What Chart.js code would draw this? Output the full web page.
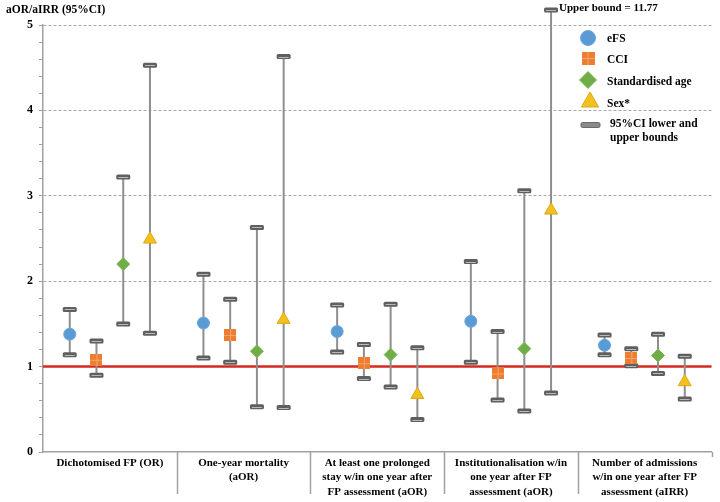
<!DOCTYPE html>
<html>
<head>
<meta charset="utf-8">
<script src="https://cdn.jsdelivr.net/npm/chart.js@4/dist/chart.umd.min.js"></script>
<style>
html,body{margin:0;padding:0;background:#fff;}
#wrap{width:720px;height:502px;}
</style>
</head>
<body>
<div id="wrap"><canvas id="c" width="720" height="502"></canvas></div>
<script>
// ---------------- DATA ----------------
const categoryLabels = [
  ["Dichotomised FP (OR)"],
  ["One-year mortality", "(aOR)"],
  ["At least one prolonged", "stay w/in one year after", "FP assessment (aOR)"],
  ["Institutionalisation w/in", "one year after FP", "assessment (aOR)"],
  ["Number of admissions", "w/in one year after FP", "assessment (aIRR)"]
];
const seriesNames = ["eFS", "CCI", "Standardised age", "Sex*"];

const eFS      = [1.38, 1.51, 1.41, 1.53, 1.25];
const eFSLower = [1.14, 1.10, 1.17, 1.05, 1.14];
const eFSUpper = [1.67, 2.08, 1.72, 2.23, 1.37];

const cci      = [1.08, 1.37, 1.04, 0.92, 1.10];
const cciLower = [0.90, 1.05, 0.86, 0.61, 1.01];
const cciUpper = [1.30, 1.79, 1.26, 1.41, 1.21];

const age      = [2.20, 1.18, 1.14, 1.21, 1.13];
const ageLower = [1.50, 0.53, 0.76, 0.48, 0.92];
const ageUpper = [3.22, 2.63, 1.73, 3.06, 1.38];

const sex      = [2.49, 1.55, 0.67, 2.83, 0.82];
const sexLower = [1.39, 0.52, 0.38, 0.69, 0.62];
const sexUpper = [4.53, 4.63, 1.22, 11.77, 1.12];

const yTickValues = [0, 1, 2, 3, 4, 5];
const referenceValue = 1;
const axisTitle = "aOR/aIRR (95%CI)";
const ciLegendLabel = ["95%CI lower and", "upper bounds"];

// ---------------- STYLE ----------------
const SERIF = "'Liberation Serif', 'Times New Roman', serif";
const groupOffsets = [-0.3, -0.1, 0.1, 0.3];

function makeSquareImage(size) {
  const c = document.createElement('canvas');
  c.width = size; c.height = size;
  const g = c.getContext('2d');
  g.fillStyle = '#ed7d31';
  g.fillRect(0, 0, size, size);
  g.strokeStyle = '#f4a56f';
  g.lineWidth = 1;
  g.beginPath();
  g.moveTo(Math.floor(size / 2) + 0.5, 0); g.lineTo(Math.floor(size / 2) + 0.5, size);
  g.moveTo(0, Math.floor(size / 2) + 0.5); g.lineTo(size, Math.floor(size / 2) + 0.5);
  g.stroke();
  return c;
}
const cciImg = makeSquareImage(12);
const cciLegendImg = makeSquareImage(13);

const seriesStyles = [
  {pointStyle: 'circle', radius: 6, bg: '#5b9bd5', border: '#6aa6dc', legendStyle: 'circle', legendRadius: 7.5},
  {pointStyle: cciImg, radius: 6, bg: '#ed7d31', border: '#ed7d31', legendStyle: cciLegendImg, legendRadius: 7},
  {pointStyle: 'rectRot', radius: 6.5, bg: '#70ad47', border: '#7cb856', legendStyle: 'rectRot', legendRadius: 8.5},
  {pointStyle: 'triangle', radius: 7.5, bg: '#f3c01c', border: '#d9aa1a', legendStyle: 'triangle', legendRadius: 10}
];

const seriesValues = [eFS, cci, age, sex];
const seriesLower = [eFSLower, cciLower, ageLower, sexLower];
const seriesUpper = [eFSUpper, cciUpper, ageUpper, sexUpper];

const datasets = seriesNames.map((name, k) => ({
  label: name,
  data: seriesValues[k].map((v, i) => ({x: i + groupOffsets[k], y: v, lo: seriesLower[k][i], hi: seriesUpper[k][i]})),
  pointStyle: seriesStyles[k].pointStyle,
  pointRadius: seriesStyles[k].radius,
  pointBackgroundColor: seriesStyles[k].bg,
  pointBorderColor: seriesStyles[k].border,
  pointBorderWidth: 1,
  showLine: false
}));

function drawCap(ctx, cx, cy) {
  const w = 14, h = 5;
  ctx.save();
  ctx.fillStyle = '#5f5f5f';
  ctx.beginPath();
  if (ctx.roundRect) ctx.roundRect(cx - w / 2, cy - h / 2, w, h, 1.5);
  else ctx.rect(cx - w / 2, cy - h / 2, w, h);
  ctx.fill();
  ctx.strokeStyle = '#b8b8b8';
  ctx.lineWidth = 1;
  ctx.beginPath();
  ctx.moveTo(cx - w / 2 + 2, Math.round(cy) + 0.5);
  ctx.lineTo(cx + w / 2 - 2, Math.round(cy) + 0.5);
  ctx.stroke();
  ctx.restore();
}

const ciPlugin = {
  id: 'ciPlugin',
  beforeDatasetsDraw(chart) {
    const {ctx, chartArea, scales} = chart;
    const {left, right, top, bottom} = chartArea;
    const x = scales.x, y = scales.y;
    ctx.save();
    // reference line
    const yr = y.getPixelForValue(referenceValue);
    ctx.strokeStyle = '#d5281f';
    ctx.lineWidth = 2.5;
    ctx.beginPath();
    ctx.moveTo(left, yr); ctx.lineTo(right, yr);
    ctx.stroke();
    // category dividers below axis
    ctx.strokeStyle = '#a0a0a0';
    ctx.lineWidth = 1.5;
    for (let i = 0; i < categoryLabels.length - 1; i++) {
      const px = Math.round(x.getPixelForValue(i + 0.5)) + 0.5;
      ctx.beginPath();
      ctx.moveTo(px, bottom); ctx.lineTo(px, bottom + 42);
      ctx.stroke();
    }
    const pr = Math.round(x.getPixelForValue(categoryLabels.length - 0.5)) + 0.5;
    ctx.beginPath(); ctx.moveTo(pr, bottom); ctx.lineTo(pr, bottom + 5); ctx.stroke();
    // error bars
    chart.data.datasets.forEach((ds, di) => {
      const meta = chart.getDatasetMeta(di);
      meta.data.forEach((pt, i) => {
        const d = ds.data[i];
        const px = pt.x;
        const clipped = d.hi > y.max;
        const yHi = clipped ? top - 15 : y.getPixelForValue(d.hi);
        const yLo = y.getPixelForValue(d.lo);
        ctx.strokeStyle = '#8e8e8e';
        ctx.lineWidth = 2;
        ctx.beginPath();
        ctx.moveTo(px, yHi); ctx.lineTo(px, yLo);
        ctx.stroke();
        drawCap(ctx, px, yHi);
        drawCap(ctx, px, yLo);
        if (clipped) {
          ctx.fillStyle = '#000';
          ctx.font = 'bold 11px ' + SERIF;
          ctx.textBaseline = 'middle';
          ctx.textAlign = 'left';
          ctx.fillText('Upper bound = ' + d.hi, px + 8, yHi - 2);
        }
      });
    });
    ctx.restore();
  },
  afterDraw(chart) {
    const {ctx} = chart;
    ctx.save();
    // axis title
    ctx.fillStyle = '#000';
    ctx.font = 'bold 11.5px ' + SERIF;
    ctx.textBaseline = 'middle';
    ctx.textAlign = 'left';
    ctx.fillText(axisTitle, 6, 10);
    // legend
    const markX = 588, textX = 607;
    const rowY = [38, 58.5, 80, 102];
    const textY = [39.5, 60, 82, 104];
    chart.data.datasets.forEach((ds, k) => {
      const st = seriesStyles[k];
      ctx.fillStyle = st.bg;
      ctx.strokeStyle = st.border;
      ctx.lineWidth = 1;
      Chart.helpers.drawPoint(ctx, {pointStyle: st.legendStyle, radius: st.legendRadius, rotation: 0, borderWidth: 1},
        markX + (k === 3 ? 2 : 0), rowY[k]);
      ctx.fillStyle = '#000';
      ctx.font = 'bold 11.5px ' + SERIF;
      ctx.textBaseline = 'middle';
      ctx.fillText(ds.label, textX, textY[k]);
    });
    // CI legend item
    ctx.fillStyle = '#8a8a8a';
    ctx.strokeStyle = '#6a6a6a';
    ctx.lineWidth = 1;
    ctx.beginPath();
    if (ctx.roundRect) ctx.roundRect(581, 122.5, 19, 5, 1.5); else ctx.rect(581, 122.5, 19, 5);
    ctx.fill(); ctx.stroke();
    ctx.fillStyle = '#000';
    ctx.fillText(ciLegendLabel[0], 610, 124.5);
    ctx.fillText(ciLegendLabel[1], 610, 138);
    ctx.restore();
  }
};

const isInt = v => Math.abs(v - Math.round(v)) < 1e-9;

new Chart(document.getElementById('c'), {
  type: 'scatter',
  data: {datasets},
  options: {
    responsive: false,
    animation: false,
    devicePixelRatio: 1,
    layout: {padding: {top: 25, right: 6, left: 0, bottom: 0}},
    plugins: {legend: {display: false}, tooltip: {enabled: false}, title: {display: false}},
    scales: {
      x: {
        type: 'linear',
        min: -0.5,
        max: categoryLabels.length - 0.5,
        afterBuildTicks: s => { s.ticks = categoryLabels.map((c, i) => ({value: i})); },
        afterFit: s => { s.height = 50; },
        grid: {display: false, drawTicks: false},
        border: {display: true, color: '#a0a0a0', width: 1.5},
        ticks: {
          autoSkip: false, maxRotation: 0, minRotation: 0, padding: 4,
          color: '#000',
          font: {family: SERIF, weight: 'bold', size: 11, lineHeight: 1.3},
          callback: v => categoryLabels[Math.round(v)]
        }
      },
      y: {
        type: 'linear',
        min: yTickValues[0],
        max: yTickValues[yTickValues.length - 1],
        afterBuildTicks: s => {
          const t = [];
          const lo = yTickValues[0], hi = yTickValues[yTickValues.length - 1];
          for (let k = lo * 5; k <= hi * 5; k++) t.push({value: k / 5});
          s.ticks = t;
        },
        afterFit: s => { s.width = 43; },
        grid: {
          color: c => (isInt(c.tick.value) && c.tick.value > 0) ? '#a8a8a8' : 'rgba(0,0,0,0)',
          tickColor: '#a0a0a0',
          tickLength: 4,
          lineWidth: 1,
          tickBorderDash: []
        },
        border: {display: true, color: '#a0a0a0', width: 1.5, dash: [3, 2]},
        ticks: {
          autoSkip: false,
          padding: 6,
          color: '#000',
          font: {family: SERIF, weight: 'bold', size: 12},
          callback: v => isInt(v) ? String(Math.round(v)) : ''
        }
      }
    }
  },
  plugins: [ciPlugin]
});
</script>
</body>
</html>
